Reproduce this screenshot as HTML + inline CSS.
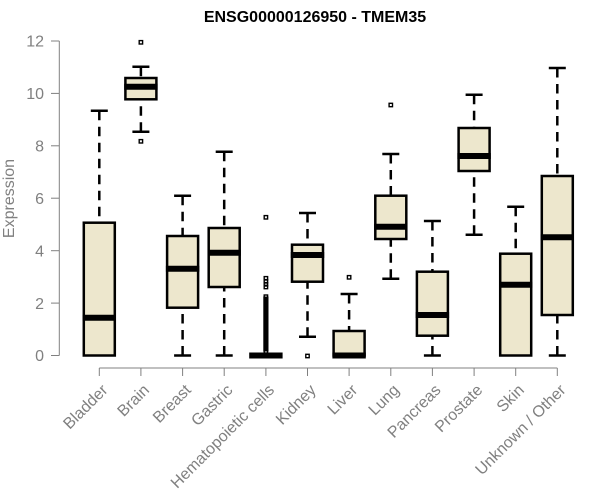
<!DOCTYPE html>
<html>
<head>
<meta charset="utf-8">
<style>
html,body{margin:0;padding:0;background:#fff;}
svg{display:block;}
text{font-family:"Liberation Sans",Arial,sans-serif;}
</style>
</head>
<body>
<svg width="600" height="500" viewBox="0 0 600 500" xmlns="http://www.w3.org/2000/svg">
<rect width="600" height="500" fill="#fff"/>
<!-- Title -->
<text x="315" y="22" text-anchor="middle" font-size="16" font-weight="bold" fill="#000">ENSG00000126950 - TMEM35</text>
<!-- Y label -->
<text transform="translate(13.8,198.5) rotate(-90)" text-anchor="middle" font-size="16" fill="#808080">Expression</text>

<!-- Y axis -->
<g stroke="#808080" stroke-width="1" fill="none">
<line x1="59.3" y1="41" x2="59.3" y2="355.5"/>
<line x1="51" y1="355.5" x2="59.3" y2="355.5"/>
<line x1="51" y1="303.1" x2="59.3" y2="303.1"/>
<line x1="51" y1="250.7" x2="59.3" y2="250.7"/>
<line x1="51" y1="198.2" x2="59.3" y2="198.2"/>
<line x1="51" y1="145.8" x2="59.3" y2="145.8"/>
<line x1="51" y1="93.4" x2="59.3" y2="93.4"/>
<line x1="51" y1="41" x2="59.3" y2="41"/>
</g>
<g font-size="16" fill="#808080" text-anchor="end">
<text x="44" y="361.2">0</text>
<text x="44" y="308.8">2</text>
<text x="44" y="256.4">4</text>
<text x="44" y="203.9">6</text>
<text x="44" y="151.5">8</text>
<text x="44" y="99.1">10</text>
<text x="44" y="46.7">12</text>
</g>

<!-- X axis -->
<g stroke="#808080" stroke-width="1" fill="none">
<line x1="99.3" y1="368" x2="557.3" y2="368"/>
<line x1="99.3" y1="368" x2="99.3" y2="376"/>
<line x1="140.9" y1="368" x2="140.9" y2="376"/>
<line x1="182.6" y1="368" x2="182.6" y2="376"/>
<line x1="224.2" y1="368" x2="224.2" y2="376"/>
<line x1="265.9" y1="368" x2="265.9" y2="376"/>
<line x1="307.5" y1="368" x2="307.5" y2="376"/>
<line x1="349.1" y1="368" x2="349.1" y2="376"/>
<line x1="390.8" y1="368" x2="390.8" y2="376"/>
<line x1="432.4" y1="368" x2="432.4" y2="376"/>
<line x1="474.1" y1="368" x2="474.1" y2="376"/>
<line x1="515.7" y1="368" x2="515.7" y2="376"/>
<line x1="557.3" y1="368" x2="557.3" y2="376"/>
</g>
<g font-size="16" fill="#808080" text-anchor="end">
<text transform="translate(108.6,391) rotate(-45)">Bladder</text>
<text transform="translate(150.2,391) rotate(-45)">Brain</text>
<text transform="translate(191.9,391) rotate(-45)">Breast</text>
<text transform="translate(233.5,391) rotate(-45)">Gastric</text>
<text transform="translate(275.2,391) rotate(-45)">Hematopoietic cells</text>
<text transform="translate(316.8,391) rotate(-45)">Kidney</text>
<text transform="translate(358.4,391) rotate(-45)">Liver</text>
<text transform="translate(400.1,391) rotate(-45)">Lung</text>
<text transform="translate(441.7,391) rotate(-45)">Pancreas</text>
<text transform="translate(483.4,391) rotate(-45)">Prostate</text>
<text transform="translate(525,391) rotate(-45)">Skin</text>
<text transform="translate(566.6,391) rotate(-45)">Unknown / Other</text>
</g>

<!-- Whiskers (dashed, drawn from whisker end toward box) -->
<g stroke="#000" stroke-width="2.5" fill="none" stroke-dasharray="9.5 6.5">
<line x1="99.3" y1="110.7" x2="99.3" y2="222.7"/>
<line x1="140.9" y1="66.7" x2="140.9" y2="78"/>
<line x1="140.9" y1="131.7" x2="140.9" y2="99.3"/>
<line x1="182.6" y1="195.7" x2="182.6" y2="236"/>
<line x1="182.6" y1="355.5" x2="182.6" y2="307.7"/>
<line x1="224.2" y1="151.7" x2="224.2" y2="228"/>
<line x1="224.2" y1="355.5" x2="224.2" y2="287"/>
<line x1="307.5" y1="213" x2="307.5" y2="244.7"/>
<line x1="307.5" y1="336.7" x2="307.5" y2="281.7"/>
<line x1="349.1" y1="294" x2="349.1" y2="331"/>
<line x1="390.8" y1="154" x2="390.8" y2="195.7"/>
<line x1="390.8" y1="278.7" x2="390.8" y2="239"/>
<line x1="432.4" y1="221" x2="432.4" y2="271.7"/>
<line x1="432.4" y1="355.5" x2="432.4" y2="335.7"/>
<line x1="474.1" y1="94.7" x2="474.1" y2="128"/>
<line x1="474.1" y1="234.7" x2="474.1" y2="171"/>
<line x1="515.7" y1="206.7" x2="515.7" y2="253.7"/>
<line x1="557.3" y1="68" x2="557.3" y2="176"/>
<line x1="557.3" y1="355.5" x2="557.3" y2="315"/>
</g>
<!-- Caps -->
<g stroke="#000" stroke-width="2.5" fill="none">
<line x1="90.8" y1="110.7" x2="107.8" y2="110.7"/>
<line x1="132.4" y1="66.7" x2="149.4" y2="66.7"/>
<line x1="132.4" y1="131.7" x2="149.4" y2="131.7"/>
<line x1="174.1" y1="195.7" x2="191.1" y2="195.7"/>
<line x1="174.1" y1="355.5" x2="191.1" y2="355.5"/>
<line x1="215.7" y1="151.7" x2="232.7" y2="151.7"/>
<line x1="215.7" y1="355.5" x2="232.7" y2="355.5"/>
<line x1="299" y1="213" x2="316" y2="213"/>
<line x1="299" y1="336.7" x2="316" y2="336.7"/>
<line x1="340.6" y1="294" x2="357.6" y2="294"/>
<line x1="382.3" y1="154" x2="399.3" y2="154"/>
<line x1="382.3" y1="278.7" x2="399.3" y2="278.7"/>
<line x1="423.9" y1="221" x2="440.9" y2="221"/>
<line x1="423.9" y1="355.5" x2="440.9" y2="355.5"/>
<line x1="465.6" y1="94.7" x2="482.6" y2="94.7"/>
<line x1="465.6" y1="234.7" x2="482.6" y2="234.7"/>
<line x1="507.2" y1="206.7" x2="524.2" y2="206.7"/>
<line x1="548.8" y1="68" x2="565.8" y2="68"/>
<line x1="548.8" y1="355.5" x2="565.8" y2="355.5"/>
</g>

<!-- Boxes -->
<g stroke="#000" stroke-width="2.5" fill="#EDE7CD">
<rect x="83.8" y="222.7" width="31" height="132.8"/>
<rect x="125.4" y="78" width="31" height="21.3"/>
<rect x="167.1" y="236" width="31" height="71.7"/>
<rect x="208.7" y="228" width="31" height="59"/>
<rect x="250.4" y="355.5" width="31" height="0"/>
<rect x="292" y="244.7" width="31" height="37"/>
<rect x="333.6" y="331" width="31" height="24.5"/>
<rect x="375.3" y="195.7" width="31" height="43.3"/>
<rect x="416.9" y="271.7" width="31" height="64"/>
<rect x="458.6" y="128" width="31" height="43"/>
<rect x="500.2" y="253.7" width="31" height="101.8"/>
<rect x="541.8" y="176" width="31" height="139"/>
</g>
<!-- Medians -->
<g stroke="#000" stroke-width="6" fill="none">
<line x1="82.6" y1="317.7" x2="116" y2="317.7"/>
<line x1="124.2" y1="86.7" x2="157.6" y2="86.7"/>
<line x1="165.9" y1="268.7" x2="199.3" y2="268.7"/>
<line x1="207.5" y1="252.7" x2="240.9" y2="252.7"/>
<line x1="249.2" y1="355.5" x2="282.6" y2="355.5"/>
<line x1="290.8" y1="255" x2="324.2" y2="255"/>
<line x1="332.4" y1="355.5" x2="365.8" y2="355.5"/>
<line x1="374.1" y1="226.7" x2="407.5" y2="226.7"/>
<line x1="415.7" y1="315" x2="449.1" y2="315"/>
<line x1="457.4" y1="156" x2="490.8" y2="156"/>
<line x1="499" y1="284.7" x2="532.4" y2="284.7"/>
<line x1="540.6" y1="237.3" x2="574" y2="237.3"/>
</g>

<!-- Outliers -->
<g stroke="#000" stroke-width="1.4" fill="none">
<rect x="139.2" y="40.6" width="3.4" height="3.4"/>
<rect x="139.2" y="139.6" width="3.4" height="3.4"/>
<rect x="264.2" y="215.6" width="3.4" height="3.4"/>
<rect x="264.2" y="276.6" width="3.4" height="3.4"/>
<rect x="264.2" y="279.6" width="3.4" height="3.4"/>
<rect x="264.2" y="282.6" width="3.4" height="3.4"/>
<rect x="264.2" y="285.3" width="3.4" height="3.4"/>
<rect x="264.2" y="295" width="3.4" height="3.4"/>
<rect x="264.2" y="349.6" width="3.4" height="3.4"/>
<rect x="305.8" y="354.3" width="3.4" height="3.4"/>
<rect x="347.4" y="275.6" width="3.4" height="3.4"/>
<rect x="389.1" y="103.3" width="3.4" height="3.4"/>
</g>
<rect x="263.3" y="296.5" width="5.2" height="55" fill="#000"/>
</svg>
</body>
</html>
